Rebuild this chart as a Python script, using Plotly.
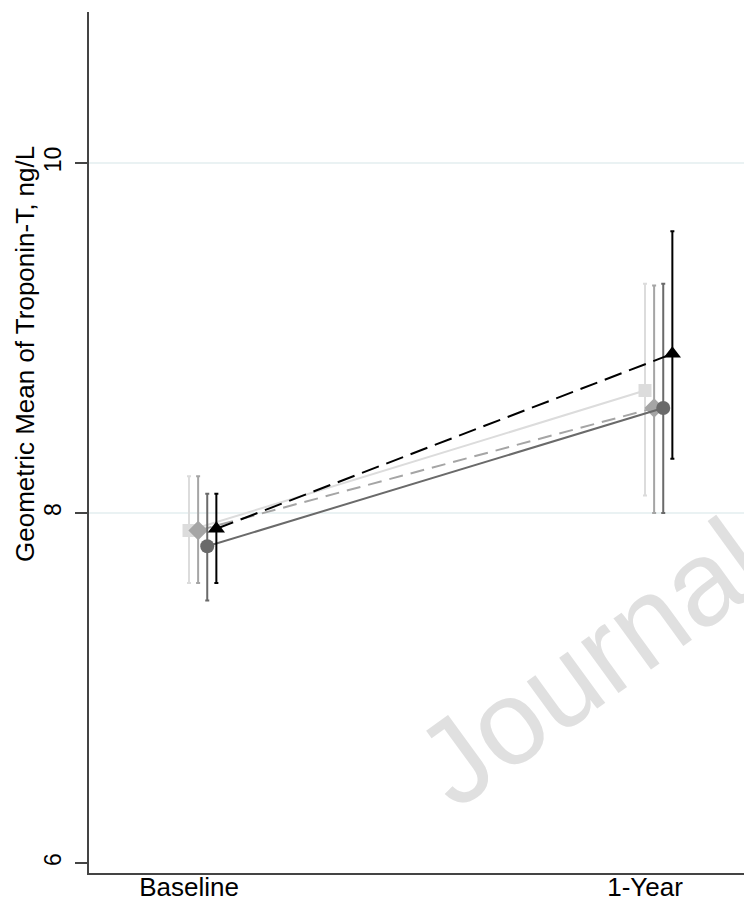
import plotly.graph_objects as go

# ---- data ----
categories = ["Baseline", "1-Year"]
series_names = ["Group A", "Group B", "Group C", "Group D"]
means_a = [7.90, 8.70]
lo_a = [7.60, 8.10]
hi_a = [8.21, 9.31]
means_b = [7.90, 8.60]
lo_b = [7.60, 8.00]
hi_b = [8.21, 9.30]
means_c = [7.81, 8.60]
lo_c = [7.50, 8.00]
hi_c = [8.11, 9.31]
means_d = [7.91, 8.91]
lo_d = [7.60, 8.31]
hi_d = [8.11, 9.61]
y_ticks = [6, 8, 10]

# ---- styles ----
styles = [
    dict(color="#dcdcdc", symbol="square", dash="solid", size=13),
    dict(color="#a5a5a5", symbol="diamond", dash="14px,8px", size=15),
    dict(color="#6a6a6a", symbol="circle", dash="solid", size=14),
    dict(color="#000000", symbol="triangle-up", dash="18px,8px", size=15),
]
dodge = [0.0, 0.02, 0.04, 0.06]

data = [
    (means_a, lo_a, hi_a),
    (means_b, lo_b, hi_b),
    (means_c, lo_c, hi_c),
    (means_d, lo_d, hi_d),
]

W, H = 744, 902
ML, MR, MT, MB = 89, 0, 12, 29
PW, PH = W - ML - MR, H - MT - MB
Y_RANGE = [5.943, 10.863]
X_RANGE = [-0.2193, 1.2171]

fig = go.Figure()

# gridlines (only above the bottom tick, as in the reference)
for yv in y_ticks[1:]:
    fig.add_shape(type="line", xref="paper", yref="y", x0=0, x1=1, y0=yv, y1=yv,
                  line=dict(color="#eaf2f3", width=2), layer="below")

for name, (m, lo, hi), st, dx in zip(series_names, data, styles, dodge):
    xs = [i + dx for i in range(len(categories))]
    fig.add_trace(go.Scatter(
        x=xs, y=m, mode="lines+markers", name=name,
        line=dict(color=st["color"], width=2, dash=st["dash"]),
        marker=dict(color=st["color"], symbol=st["symbol"], size=st["size"], line=dict(width=0)),
        error_y=dict(type="data", symmetric=False,
                     array=[h - v for h, v in zip(hi, m)],
                     arrayminus=[v - l for v, l in zip(m, lo)],
                     color=st["color"], thickness=2, width=2),
        showlegend=False,
    ))

font_family = "Liberation Sans, Arial, sans-serif"

fig.update_layout(
    template="none",
    width=W, height=H,
    margin=dict(l=ML, r=MR, t=MT, b=MB, pad=0),
    paper_bgcolor="white", plot_bgcolor="white",
    font=dict(family=font_family, color="#000000"),
    xaxis=dict(
        range=X_RANGE, automargin=False,
        tickvals=list(range(len(categories))), ticktext=categories,
        showgrid=False, zeroline=False,
        showline=True, linecolor="#444444", linewidth=2,
        ticks="", tickfont=dict(size=26, family=font_family, color="#000000"),
        ticklabelstandoff=-10,
    ),
    yaxis=dict(
        range=Y_RANGE, automargin=False,
        tickvals=y_ticks, ticktext=[str(v) for v in y_ticks],
        tickangle=-90,
        showgrid=False, zeroline=False,
        showline=True, linecolor="#444444", linewidth=2,
        ticks="outside", ticklen=12, tickwidth=2, tickcolor="#444444",
        tickfont=dict(size=23, family=font_family, color="#000000"),
        ticklabelstandoff=5,
    ),
    annotations=[
        dict(text="Geometric Mean of Troponin-T, ng/L", textangle=-90,
             xref="paper", yref="paper",
             x=(25 - ML) / PW, y=(MT + PH - 354) / PH,
             xanchor="center", yanchor="middle", showarrow=False,
             font=dict(size=26, family=font_family, color="#000000")),
        dict(text="Journal", textangle=-36,
             xref="paper", yref="paper",
             x=(590 - ML) / PW, y=(MT + PH - 662) / PH,
             xanchor="center", yanchor="middle", showarrow=False,
             font=dict(size=120, family=font_family, color="#e0e0e0")),
    ],
)

fig.write_html(
    "out.html",
    config={"displayModeBar": False},
    post_script="document.body.style.margin='0';document.body.style.overflow='hidden';",
)
